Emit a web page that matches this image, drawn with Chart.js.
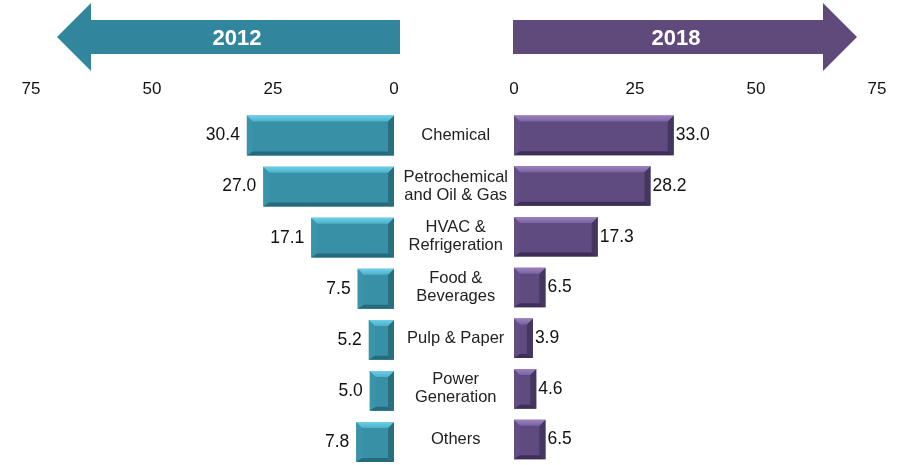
<!DOCTYPE html>
<html>
<head>
<meta charset="utf-8">
<script src="https://cdn.jsdelivr.net/npm/chart.js@4.4.1/dist/chart.umd.min.js"></script>
<style>
  body { margin:0; width:920px; height:465px; overflow:hidden; background:#fff; font-family:"Liberation Sans", Arial, sans-serif; }
  #wrap { position:relative; width:920px; height:465px; }
  #left { position:absolute; left:0; top:0; }
  #right { position:absolute; left:400px; top:0; }
  #arrows { position:absolute; left:0; top:0; }
</style>
</head>
<body>
<div id="wrap">
  <canvas id="left" width="410" height="480"></canvas>
  <canvas id="right" width="520" height="480"></canvas>
  <svg id="arrows" width="920" height="80">
    <polygon points="400,20 91,20 91,3 57,37 91,71 91,54 400,54" fill="#31859c"/>
    <text x="237" y="45" fill="#fff" font-family="Liberation Sans, Arial" font-weight="bold" font-size="22" text-anchor="middle">2012</text>
    <polygon points="513,20 823,20 823,3 857,37 823,71 823,54 513,54" fill="#604a7b"/>
    <text x="676" y="45" fill="#fff" font-family="Liberation Sans, Arial" font-weight="bold" font-size="22" text-anchor="middle">2018</text>
  </svg>
</div>
<script>
const categories = [['Chemical'], ['Petrochemical', 'and Oil & Gas'], ['HVAC &', 'Refrigeration'], ['Food &', 'Beverages'], ['Pulp & Paper'], ['Power', 'Generation'], ['Others']];
const values2012 = [30.4, 27.0, 17.1, 7.5, 5.2, 5.0, 7.8];
const values2018 = [33.0, 28.2, 17.3, 6.5, 3.9, 4.6, 6.5];
const xTicks = [0, 25, 50, 75];

const poly = (ctx, pts, color) => {
    ctx.beginPath();
    ctx.moveTo(pts[0][0], pts[0][1]);
    for (let i = 1; i < pts.length; i++) ctx.lineTo(pts[i][0], pts[i][1]);
    ctx.closePath();
    ctx.fillStyle = color;
    ctx.fill();
};

// bevelled look of the bars, drawn on top of each bar element
const bevelPlugin = {
    id: 'bevel',
    afterDatasetsDraw(chart, args, opts) {
        const ctx = chart.ctx;
        ctx.save();
        chart.getDatasetMeta(0).data.forEach(bar => {
            const p = bar.getProps(['x', 'y', 'base', 'height'], true);
            const l = Math.min(p.x, p.base), r = Math.max(p.x, p.base);
            const t = p.y - p.height / 2, b = p.y + p.height / 2;
            const d = Math.min(6, (r - l) / 3, (b - t) / 3);
            const db = Math.min(4, d);
            poly(ctx, [[l, t], [l + d, t + d], [l + d, b - db], [l, b]], opts.left);
            poly(ctx, [[r, t], [r - d, t + d], [r - d, b - db], [r, b]], opts.right);
            const g = ctx.createLinearGradient(0, t, 0, t + d);
            g.addColorStop(0, opts.top);
            g.addColorStop(1, opts.topEnd);
            poly(ctx, [[l, t], [r, t], [r - d, t + d], [l + d, t + d]], g);
            poly(ctx, [[l, b], [r, b], [r - d, b - db], [l + d, b - db]], opts.bottom);
        });
        ctx.restore();
    }
};

// value labels next to the bar ends
const valuePlugin = {
    id: 'values',
    afterDatasetsDraw(chart, args, opts) {
        const ctx = chart.ctx;
        const data = chart.data.datasets[0].data;
        ctx.save();
        ctx.font = '17.5px "Liberation Sans", Arial';
        ctx.fillStyle = '#111';
        ctx.textBaseline = 'middle';
        ctx.textAlign = opts.side === 'left' ? 'right' : 'left';
        chart.getDatasetMeta(0).data.forEach((bar, i) => {
            const x = opts.side === 'left' ? bar.x - 7 : bar.x + 2;
            ctx.fillText(data[i].toFixed(1), x, bar.y);
        });
        ctx.restore();
    }
};

const xAxis = (reverse) => ({
    type: 'linear',
    position: 'top',
    reverse: reverse,
    min: 0,
    max: 75,
    afterBuildTicks: (scale) => { scale.ticks = xTicks.map(v => ({ value: v })); },
    afterFit: (scale) => { scale.height = 32; },
    grid: { display: false, drawTicks: false },
    border: { display: false },
    ticks: { color: '#111', font: { size: 17, family: '"Liberation Sans", Arial' }, padding: 10, maxRotation: 0 }
});

const leftChart = new Chart(document.getElementById('left').getContext('2d'), {
    type: 'bar',
    data: {
        labels: categories,
        datasets: [{ data: values2012, backgroundColor: '#3790a6', barPercentage: 0.78, categoryPercentage: 1 }]
    },
    options: {
        responsive: false,
        animation: false,
        indexAxis: 'y',
        layout: { padding: { left: 31, right: 16, top: 78, bottom: 12.5 } },
        scales: {
            x: xAxis(true),
            y: { display: false }
        },
        plugins: {
            legend: { display: false },
            tooltip: { enabled: false },
            bevel: { top: '#6ad0ea', topEnd: '#4fb0c8', bottom: '#256b7c', left: '#3a94aa', right: '#28707f' },
            values: { side: 'left' }
        }
    },
    plugins: [bevelPlugin, valuePlugin]
});

const rightChart = new Chart(document.getElementById('right').getContext('2d'), {
    type: 'bar',
    data: {
        labels: categories,
        datasets: [{ data: values2018, backgroundColor: '#5f4b7f', barPercentage: 0.78, categoryPercentage: 1 }]
    },
    options: {
        responsive: false,
        animation: false,
        indexAxis: 'y',
        layout: { padding: { left: 0, right: 43, top: 78, bottom: 12.5 } },
        scales: {
            x: xAxis(false),
            y: {
                grid: { display: false, drawTicks: false },
                border: { display: false },
                afterFit: (scale) => { scale.width = 114; },
                ticks: {
                    color: '#222',
                    crossAlign: 'center',
                    padding: 6,
                    font: { size: 16.5, family: '"Liberation Sans", Arial', lineHeight: 1.1 }
                }
            }
        },
        plugins: {
            legend: { display: false },
            tooltip: { enabled: false },
            bevel: { top: '#9b82bf', topEnd: '#7a62a0', bottom: '#3e2f57', left: '#624e84', right: '#45365f' },
            values: { side: 'right' }
        }
    },
    plugins: [bevelPlugin, valuePlugin]
});
</script>
</body>
</html>
